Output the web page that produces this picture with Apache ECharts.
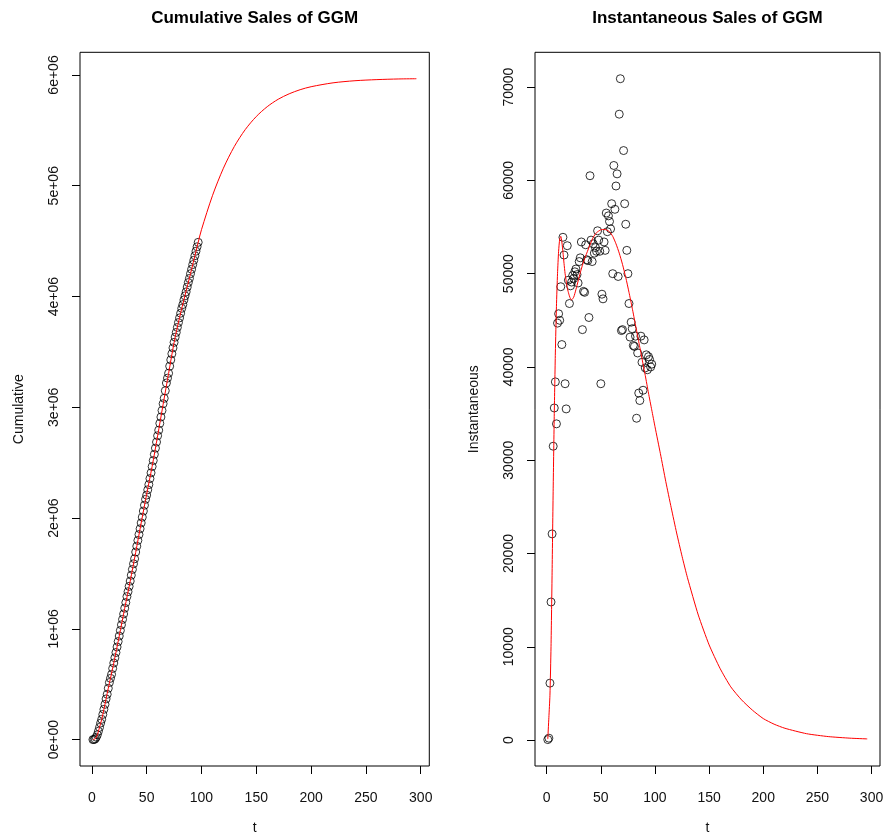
<!DOCTYPE html>
<html>
<head>
<meta charset="utf-8">
<script src="https://cdn.jsdelivr.net/npm/echarts@6/dist/echarts.min.js"></script>
<style>
html,body{margin:0;padding:0;background:#fff;}
#chart{width:889px;height:840px;}
</style>
</head>
<body>
<div id="chart"></div>
<script>
// ---------- data ----------
// observed cumulative sales (t = 1..97)
const cumulative = [50,250,6000,21000,43000,75000,110000,149000,183000,227000,
  273000,318000,367000,409000,463000,515000,553000,589000,642000,691000,
  738000,786000,836000,885000,935000,985000,1036000,1085000,1134000,1186000,
  1237000,1291000,1335000,1383000,1431000,1484000,1536000,1587000,1632000,1693000,
  1746000,1798000,1851000,1903000,1956000,2008000,2063000,2116000,2169000,2207000,
  2255000,2302000,2356000,2408000,2465000,2519000,2575000,2631000,2686000,2743000,
  2793000,2855000,2912000,2971000,3032000,3081000,3149000,3219000,3263000,3307000,
  3371000,3428000,3483000,3536000,3586000,3633000,3676000,3721000,3765000,3807000,
  3849000,3893000,3927000,3969000,4006000,4042000,4085000,4126000,4163000,4206000,
  4246000,4288000,4327000,4368000,4409000,4449000,4489000];
// observed instantaneous sales (t = 1..97)
const instantaneous = [50,200,6100,14800,22100,31500,35600,38400,33900,44700,
  45700,45000,48600,42400,53900,52000,38200,35500,53000,49300,
  46800,48700,49100,49800,49500,50200,50500,49900,49000,51300,
  51700,53400,44000,48100,48000,53100,51500,51400,45300,60500,
  53600,51300,53200,52200,52800,52400,54600,53600,52400,38200,
  47800,47300,53400,52500,56500,54500,56200,55600,54800,57500,
  50000,61600,56900,59400,60700,49700,67100,70900,43900,44000,
  63200,57500,55300,52500,50000,46800,43200,44800,44100,42300,
  42200,43300,34500,41500,37200,36400,43300,40500,37500,42900,
  39900,41300,39700,41100,40800,40000,40300];
// fitted GGM cumulative curve
const fitCumT = [1,3,5,7,9,11,13,15,17,20,25,30,35,40,45,50,55,60,65,70,75,80,85,90,95,97,100,
  110,120,130,140,150,160,170,180,190,200,220,240,260,280,296];
const fitCumulative = [50,6350,43000,110000,183000,273000,367000,463000,553000,691000,
  935000,1186000,1431000,1690000,1956000,2215000,2466000,2741000,3025000,3305000,
  3583000,3810000,4010000,4206000,4408000,4489000,4603000,4910000,5158000,5355000,
  5508000,5625000,5714000,5781000,5830000,5867000,5894000,5929000,5948000,5958000,
  5964000,5966000];
// fitted GGM instantaneous curve
const fitInstT = [1,2,3,4,5,6,7,8,9,10,11,12,13,14,15,16,17,18,19,20,21,22,23,25,27,29,31,33,35,37,
  40,43,46,50,53,55,58,61,64,67,70,73,76,79,82,85,88,91,94,97,100,105,110,115,120,125,130,
  140,150,160,170,180,190,200,210,220,240,260,280,296];
const fitInstantaneous = [100,2400,4800,10000,18000,27000,35000,41500,46500,50000,
  52400,53700,54000,53400,52300,51100,50000,49200,48500,48000,47600,47300,47200,
  47500,48300,49200,50100,50900,51600,52200,53100,53900,54400,54700,54750,54700,
  54500,54000,53200,52200,51000,49600,48000,46300,44500,42700,40900,39100,37200,35400,33600,
  30700,27700,24900,22200,19700,17400,13400,10200,7700,5700,4300,3200,2300,1700,1260,
  680,370,200,120];
// axis ticks and labels
const xTicks = [0,50,100,150,200,250,300];
const leftYTicks = [0,1000000,2000000,3000000,4000000,5000000,6000000];
const leftYTickLabels = ['0e+00','1e+06','2e+06','3e+06','4e+06','5e+06','6e+06'];
const rightYTicks = [0,10000,20000,30000,40000,50000,60000,70000];
const rightYTickLabels = ['0','10000','20000','30000','40000','50000','60000','70000'];
const titles = ['Cumulative Sales of GGM','Instantaneous Sales of GGM'];
const yNames = ['Cumulative','Instantaneous'];
const xName = 't';

// ---------- chart ----------
const FONT = '"Liberation Sans", Arial, Helvetica, sans-serif';
const TXT = '#111';
const pairs = (xs, ys) => ys.map((v, i) => [xs[i], v]);
const obsPairs = ys => ys.map((v, i) => [i + 1, v]);

function rng(lo, hi) { const d = hi - lo; return [lo - 0.04 * d, hi + 0.04 * d]; }
const xR = rng(1, 296);
const lyR = rng(Math.min(...cumulative, ...fitCumulative), Math.max(...cumulative, ...fitCumulative));
const ryR = rng(Math.min(...instantaneous, ...fitInstantaneous), Math.max(...instantaneous, ...fitInstantaneous));

function xAxis(gi) {
  return {
    type: 'value', gridIndex: gi, min: xR[0], max: xR[1], position: 'bottom',
    name: xName, nameLocation: 'middle', nameGap: 55,
    nameTextStyle: { color: TXT, fontSize: 14, fontFamily: FONT },
    axisLine: { show: false, onZero: false },
    axisTick: { show: true, inside: false, length: 8, customValues: xTicks, lineStyle: { color: '#000', width: 1 } },
    axisLabel: { show: true, margin: 25, customValues: xTicks, color: TXT, fontSize: 14, fontFamily: FONT },
    splitLine: { show: false }
  };
}
function yAxis(gi, r, ticks, labels, name) {
  return {
    type: 'value', gridIndex: gi, min: r[0], max: r[1], position: 'left',
    name: name, nameLocation: 'middle', nameGap: 54, nameRotate: 90,
    nameTextStyle: { color: TXT, fontSize: 14, fontFamily: FONT },
    axisLine: { show: false, onZero: false },
    axisTick: { show: true, inside: false, length: 8, customValues: ticks, lineStyle: { color: '#000', width: 1 } },
    axisLabel: {
      show: true, rotate: 90, margin: 19, customValues: ticks, color: TXT, fontSize: 14, fontFamily: FONT,
      formatter: v => { const k = ticks.indexOf(v); return k >= 0 ? labels[k] : ''; }
    },
    splitLine: { show: false }
  };
}

const chart = echarts.init(document.getElementById('chart'), null, { renderer: 'canvas' });
chart.setOption({
  backgroundColor: '#fff',
  animation: false,
  title: [
    { text: titles[0], left: 254.6, top: 10, textAlign: 'center', padding: 0,
      textStyle: { fontSize: 17, fontWeight: 'bold', color: '#000', fontFamily: FONT } },
    { text: titles[1], left: 707.5, top: 10, textAlign: 'center', padding: 0,
      textStyle: { fontSize: 17, fontWeight: 'bold', color: '#000', fontFamily: FONT } }
  ],
  grid: [
    { left: 80, top: 52.3, width: 349.3, height: 714.4, show: true, borderColor: '#000', borderWidth: 1, backgroundColor: 'transparent' },
    { left: 535, top: 52.3, width: 345, height: 714.4, show: true, borderColor: '#000', borderWidth: 1, backgroundColor: 'transparent' }
  ],
  xAxis: [xAxis(0), xAxis(1)],
  yAxis: [
    yAxis(0, lyR, leftYTicks, leftYTickLabels, yNames[0]),
    yAxis(1, ryR, rightYTicks, rightYTickLabels, yNames[1])
  ],
  series: [
    { type: 'scatter', xAxisIndex: 0, yAxisIndex: 0, data: obsPairs(cumulative),
      symbol: 'circle', symbolSize: 8,
      itemStyle: { color: 'rgba(0,0,0,0)', borderColor: '#000', borderWidth: 1 }, z: 2 },
    { type: 'line', xAxisIndex: 0, yAxisIndex: 0, data: pairs(fitCumT, fitCumulative),
      showSymbol: false, smooth: 0.3, lineStyle: { color: '#ff0000', width: 1 }, z: 3 },
    { type: 'scatter', xAxisIndex: 1, yAxisIndex: 1, data: obsPairs(instantaneous),
      symbol: 'circle', symbolSize: 8,
      itemStyle: { color: 'rgba(0,0,0,0)', borderColor: '#000', borderWidth: 1 }, z: 2 },
    { type: 'line', xAxisIndex: 1, yAxisIndex: 1, data: pairs(fitInstT, fitInstantaneous),
      showSymbol: false, smooth: 0.2, lineStyle: { color: '#ff0000', width: 1 }, z: 3 }
  ]
});
</script>
</body>
</html>
